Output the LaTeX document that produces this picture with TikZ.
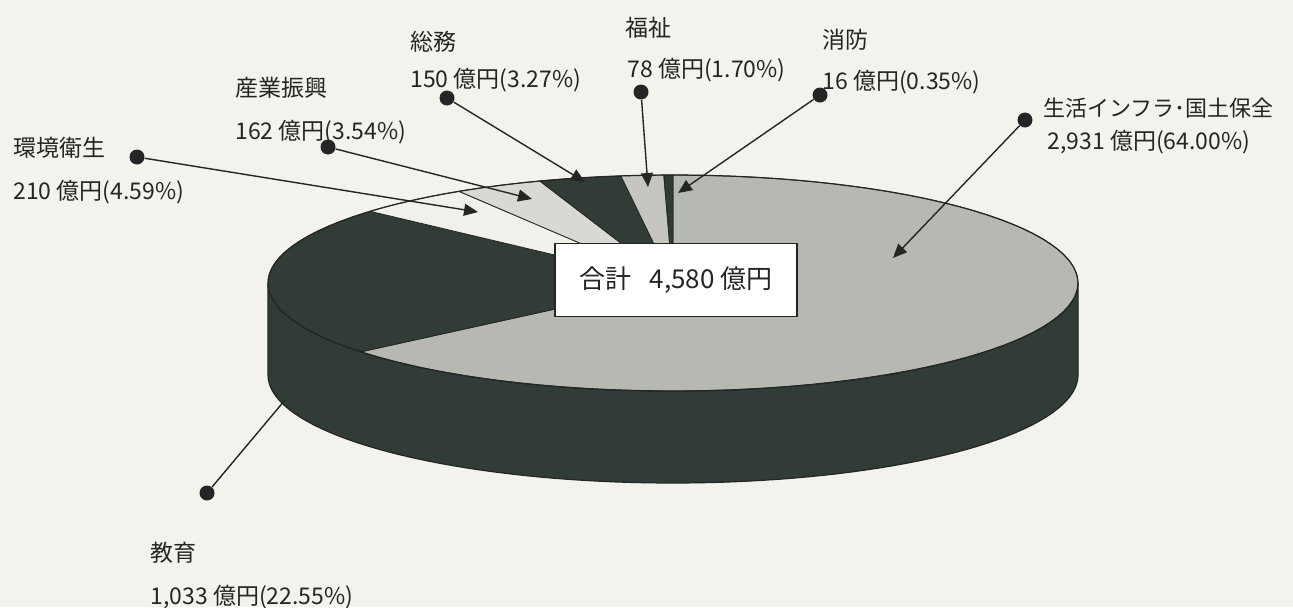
\documentclass[tikz,border=0pt]{standalone}
\usepackage{fontspec}
\setmainfont{Noto Sans CJK JP}
\usetikzlibrary{arrows.meta}

\definecolor{paper}{RGB}{243,243,237}
\definecolor{ink}{RGB}{35,38,36}
\definecolor{darkpart}{RGB}{50,60,55}
\definecolor{infra}{RGB}{182,184,178}
\definecolor{welfare}{RGB}{196,198,191}
\definecolor{industry}{RGB}{216,217,211}
\definecolor{environ}{RGB}{241,241,236}

\begin{document}
\begin{tikzpicture}[x=0.5pt,y=-0.5pt,
  dot/.style={circle,fill=ink,inner sep=0pt,minimum size=7.5pt},
  lbl/.style={anchor=west,inner sep=0pt,text=ink,font=\fontsize{11.5}{13}\selectfont},
  callout/.style={draw=ink,line width=0.7pt,-{Triangle[length=7pt,width=6pt]}},
  totalbox/.style={draw=ink,fill=white,line width=0.6pt,minimum width=121pt,minimum height=36.5pt,font=\fontsize{13}{15}\selectfont,text=ink}]
\fill[paper] (0,0) rectangle (1293,607);
\useasboundingbox (0,0) rectangle (1293,607);
% side of the pie
\filldraw[fill=darkpart,draw=ink,line width=0.6pt] plot[domain=180:360,samples=80] ({673+405*cos(\x)},{283-108*sin(\x)})
  -- plot[domain=0:180,samples=80] ({673+405*cos(\x)},{375+108*sin(\x)}) -- cycle;
% slices on top
\foreach \a/\b/\c in {-140.4/90/infra, 138.4/219.6/darkpart, 121.9/138.4/environ, 109.2/121.9/industry, 97.4/109.2/darkpart, 91.3/97.4/welfare, 90/91.3/darkpart}
  \filldraw[fill=\c,draw=ink,line width=0.4pt] (673,283) -- plot[domain=\a:\b,samples=60] ({673+405*cos(\x)},{283-108*sin(\x)}) -- cycle;
\draw[ink,line width=0.6pt] plot[domain=0:360,samples=120] ({673+405*cos(\x)},{283-108*sin(\x)}) -- cycle;
\node[totalbox] (total) at (676,280) {合計\hspace{0.7em}4,580 億円};

\node[lbl] (envname) at (13,148) {環境衛生};
\node[lbl] (envval) at (13,192) {210 億円(4.59\%)};
\node[lbl] (indname) at (235,88) {産業振興};
\node[lbl] (indval) at (235,132) {162 億円(3.54\%)};
\node[lbl] (genname) at (410,42) {総務};
\node[lbl] (genval) at (410,80) {150 億円(3.27\%)};
\node[lbl] (welname) at (625,28) {福祉};
\node[lbl] (welval) at (627,70) {78 億円(1.70\%)};
\node[lbl] (firename) at (822,40) {消防};
\node[lbl] (fireval) at (822,82) {16 億円(0.35\%)};
\node[lbl,font=\fontsize{11}{13}\selectfont] (infname) at (1043,108) {生活インフラ･国土保全};
\node[lbl] (infval) at (1047,142) {2,931 億円(64.00\%)};
\node[lbl] (eduname) at (150,553) {教育};
\node[lbl] (eduval) at (150,597) {1,033 億円(22.55\%)};

\node[dot] (envdot) at (137,157) {};
\node[dot] (inddot) at (328,147) {};
\node[dot] (gendot) at (447,98) {};
\node[dot] (weldot) at (641,92) {};
\node[dot] (firedot) at (820,95) {};
\node[dot] (infdot) at (1025,120) {};
\node[dot] (edudot) at (207,493) {};

\coordinate (envtip) at (478,212);
\coordinate (indtip) at (532,199);
\coordinate (gentip) at (585,182);
\coordinate (weltip) at (648,187);
\coordinate (firetip) at (678,193);
\coordinate (inftip) at (893,258);
\coordinate (eduend) at (285,400);

\draw[callout] (envdot) -- (envtip);
\draw[callout] (inddot) -- (indtip);
\draw[callout] (gendot) -- (gentip);
\draw[callout] (weldot) -- (weltip);
\draw[callout] (firedot) -- (firetip);
\draw[callout] (infdot) -- (inftip);
\draw[callout,-] (edudot) -- (eduend);
\end{tikzpicture}
\end{document}
